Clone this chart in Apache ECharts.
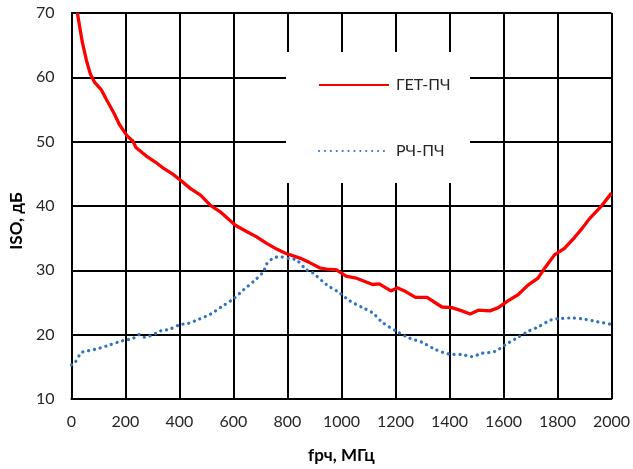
<!DOCTYPE html>
<html>
<head>
<meta charset="utf-8">
<script src="https://cdn.jsdelivr.net/npm/echarts@6/dist/echarts.min.js"></script>
<style>html,body{margin:0;padding:0;background:#fff}#c{width:633px;height:469px}</style>
</head>
<body>
<div id="c"></div>
<script>
var seriesNames = ['ГЕТ-ПЧ', 'РЧ-ПЧ'];
var xTicks = [0, 200, 400, 600, 800, 1000, 1200, 1400, 1600, 1800, 2000];
var yTicks = [10, 20, 30, 40, 50, 60, 70];

var fGet = [22, 40, 55, 70, 86, 110, 129, 159, 177, 206, 227, 239, 276, 312, 343, 374, 404, 441, 478, 515, 551, 607, 650, 686, 723, 760, 790, 846, 882, 919, 944, 980, 1017, 1054, 1115, 1140, 1183, 1207, 1238, 1274, 1317, 1372, 1409, 1446, 1477, 1507, 1550, 1581, 1618, 1654, 1691, 1728, 1752, 1789, 1826, 1863, 1893, 1918, 1961, 2000];
var isoGet = [70, 65.5, 62.7, 60.5, 59.2, 58.1, 56.6, 54.3, 52.7, 50.9, 50.1, 49.1, 47.8, 46.8, 45.8, 45.0, 44.0, 42.7, 41.7, 40.1, 39.1, 37.0, 36.0, 35.2, 34.2, 33.3, 32.7, 31.9, 31.2, 30.4, 30.2, 30.1, 29.1, 28.8, 27.8, 27.9, 26.8, 27.3, 26.7, 25.8, 25.8, 24.3, 24.2, 23.7, 23.2, 23.8, 23.7, 24.2, 25.3, 26.2, 27.7, 28.8, 30.3, 32.4, 33.4, 35.1, 36.6, 38.0, 39.9, 42.0];

var fRf = [0, 12, 37, 61, 104, 141, 184, 227, 251, 270, 312, 337, 361, 404, 429, 472, 515, 558, 601, 638, 675, 711, 723, 748, 772, 809, 834, 870, 894, 944, 993, 1029, 1078, 1115, 1152, 1201, 1250, 1299, 1348, 1397, 1446, 1483, 1520, 1569, 1606, 1642, 1691, 1728, 1777, 1814, 1851, 1900, 1949, 2000];
var isoRf = [15.3, 15.6, 17.2, 17.5, 17.9, 18.4, 19.0, 19.4, 20.0, 19.6, 20.2, 20.7, 20.8, 21.6, 21.7, 22.4, 23.2, 24.4, 25.6, 27.0, 28.3, 29.8, 31.0, 31.9, 32.1, 31.8, 31.6, 30.1, 29.6, 27.8, 26.5, 25.3, 24.2, 23.4, 21.9, 20.6, 19.5, 18.8, 17.7, 17.0, 16.9, 16.6, 17.1, 17.4, 18.4, 19.3, 20.5, 21.2, 22.3, 22.5, 22.6, 22.4, 22.0, 21.6];

function pairs(xs, ys) { return xs.map(function (x, i) { return [x, ys[i]]; }); }

var FONT = 'Lato';
var BLUE = '#2f73c2';
var chart = echarts.init(document.getElementById('c'), null, { renderer: 'canvas' });
chart.setOption({
  animation: false,
  backgroundColor: '#fff',
  textStyle: { fontFamily: FONT },
  grid: { left: 70, right: 19, top: 13, bottom: 67, containLabel: false },
  graphic: [{
    type: 'rect', z: 3,
    shape: { x: 286, y: 52, width: 184, height: 131 },
    style: { fill: '#fff' }
  }],
  legend: {
    z: 5,
    orient: 'vertical',
    left: 318, top: 77, padding: 0,
    itemWidth: 70, itemHeight: 16, itemGap: 50,
    itemStyle: { color: 'rgba(0,0,0,0)', borderWidth: 0, opacity: 0 },
    textStyle: { fontFamily: FONT, fontSize: 16, color: '#262626', padding: [0, 0, 0, 2] },
    data: seriesNames
  },
  xAxis: {
    type: 'value', min: 0, max: 2000, interval: 200,
    name: 'fрч, МГц', nameLocation: 'middle', nameGap: 48,
    nameTextStyle: { fontFamily: FONT, fontSize: 17, fontWeight: 'bold', color: '#000' },
    axisLine: { show: true, lineStyle: { color: '#000', width: 2 } },
    axisTick: { show: false },
    splitLine: { show: true, lineStyle: { color: '#000', width: 2 } },
    axisLabel: { fontFamily: FONT, fontSize: 16, color: '#262626', margin: 15,
      formatter: function (v) { return xTicks.indexOf(v) >= 0 ? String(v) : ''; } }
  },
  yAxis: {
    type: 'value', min: 10, max: 70, interval: 10,
    name: 'ISO, дБ', nameLocation: 'middle', nameGap: 46,
    nameTextStyle: { fontFamily: FONT, fontSize: 17, fontWeight: 'bold', color: '#000', padding: [0, 30, 0, 0] },
    axisLine: { show: true, lineStyle: { color: '#000', width: 2 } },
    axisTick: { show: false },
    splitLine: { show: true, lineStyle: { color: '#000', width: 2 } },
    axisLabel: { fontFamily: FONT, fontSize: 16, color: '#262626', margin: 17,
      formatter: function (v) { return yTicks.indexOf(v) >= 0 ? String(v) : ''; } }
  },
  series: [
    {
      name: seriesNames[0], type: 'line', symbol: 'none', z: 4,
      data: pairs(fGet, isoGet),
      lineStyle: { color: '#ff0000', width: 3.3 },
      itemStyle: { color: '#ff0000' }
    },
    {
      name: seriesNames[1], type: 'line', symbol: 'none', z: 4, smooth: 0.3,
      data: pairs(fRf, isoRf),
      lineStyle: { color: BLUE, width: 3.2, type: [0.1, 5.8], cap: 'round' },
      itemStyle: { color: BLUE }
    }
  ]
});
</script>
</body>
</html>
